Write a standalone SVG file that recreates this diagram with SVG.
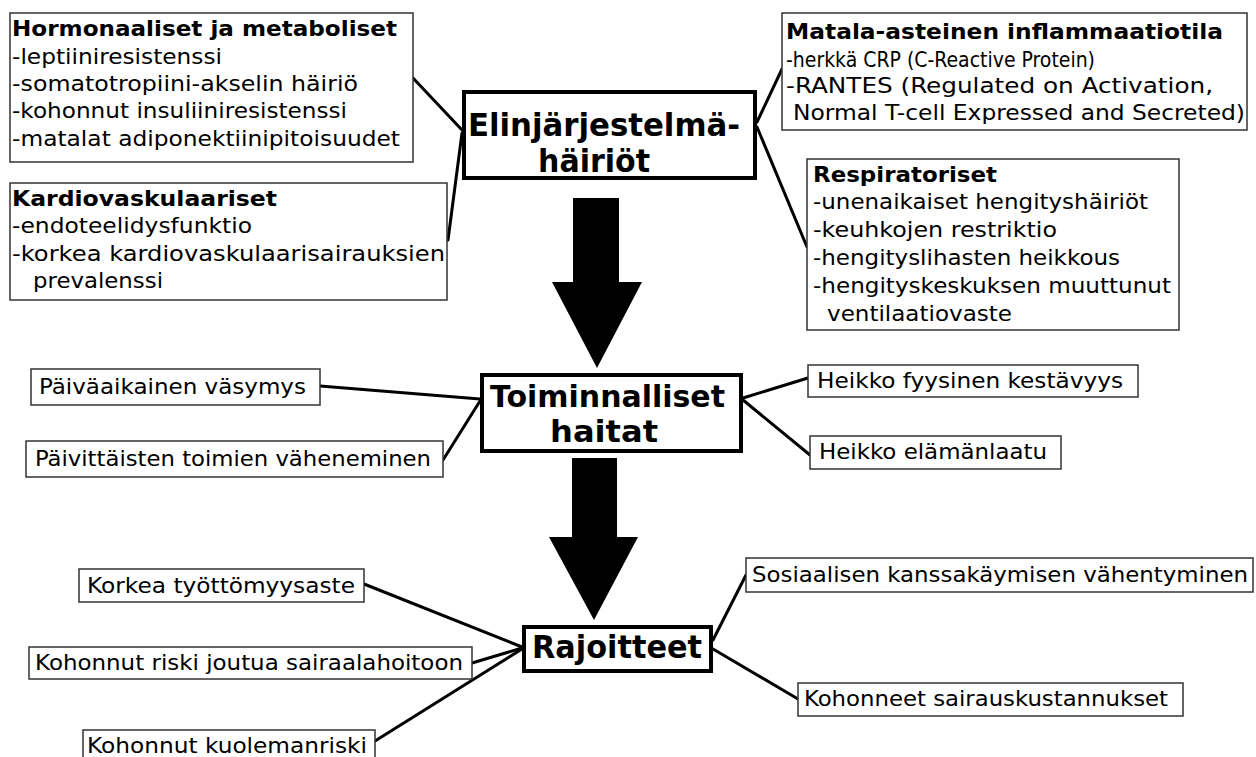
<svg xmlns="http://www.w3.org/2000/svg" width="1256" height="757" viewBox="0 0 1256 757">
<style>
.box{fill:#fff;stroke:#333;stroke-width:1.5}
.main{fill:#fff;stroke:#000;stroke-width:4}
text{font-family:'DejaVu Sans','Liberation Sans',sans-serif;font-size:21px;fill:#000}
.c{font-family:'DejaVu Sans Condensed','DejaVu Sans','Liberation Sans',sans-serif;font-stretch:condensed}
.b{font-weight:bold}
.s22{font-size:22px}
.s30{font-size:30px}
.s32{font-size:32px}
.conn line{stroke:#000;stroke-width:3;stroke-linecap:round}
.conn polygon{fill:#000}
</style>
<rect width="1256" height="757" fill="#fff"/>
<g id="connectors" class="conn">
<line x1="413" y1="78" x2="462" y2="130"/>
<line x1="448" y1="240" x2="462" y2="133"/>
<line x1="757" y1="122" x2="782" y2="69"/>
<line x1="757" y1="127" x2="807" y2="247"/>
<line x1="320" y1="386" x2="480" y2="399"/>
<line x1="443" y1="460" x2="480" y2="401"/>
<line x1="743" y1="398" x2="808" y2="378"/>
<line x1="743" y1="400" x2="810" y2="455"/>
<line x1="364" y1="584" x2="522" y2="647"/>
<line x1="472" y1="663" x2="522" y2="648"/>
<line x1="375" y1="741" x2="522" y2="649"/>
<line x1="713" y1="640" x2="746" y2="575"/>
<line x1="713" y1="649" x2="798" y2="699"/>
<polygon points="573,198 619,198 619,282 642,282 597,368 552,282 573,282"/>
<polygon points="572,458 617,458 617,537 638,537 594,620 549,537 572,537"/>
</g>
<g id="hormonaaliset">
<rect class="box" x="10" y="13" width="403" height="149"/>
<text class="b s22" x="12" y="36" textLength="385" lengthAdjust="spacingAndGlyphs">Hormonaaliset ja metaboliset</text>
<text class="s22" x="12" y="64" textLength="210" lengthAdjust="spacingAndGlyphs">-leptiiniresistenssi</text>
<text class="s22" x="12" y="91" textLength="346" lengthAdjust="spacingAndGlyphs">-somatotropiini-akselin häiriö</text>
<text class="s22" x="12" y="118" textLength="335" lengthAdjust="spacingAndGlyphs">-kohonnut insuliiniresistenssi</text>
<text class="s22" x="12" y="146" textLength="388" lengthAdjust="spacingAndGlyphs">-matalat adiponektiinipitoisuudet</text>
</g>
<g id="kardiovaskulaariset">
<rect class="box" x="10" y="183" width="437" height="117"/>
<text class="b s22" x="12" y="206" textLength="265" lengthAdjust="spacingAndGlyphs">Kardiovaskulaariset</text>
<text class="s22" x="12" y="233" textLength="240" lengthAdjust="spacingAndGlyphs">-endoteelidysfunktio</text>
<text class="s22" x="12" y="261" textLength="433" lengthAdjust="spacingAndGlyphs">-korkea kardiovaskulaarisairauksien</text>
<text class="s22" x="33" y="288" textLength="130" lengthAdjust="spacingAndGlyphs">prevalenssi</text>
</g>
<g id="matala">
<rect class="box" x="782" y="13" width="465" height="117"/>
<text class="c b s22" x="786" y="39" textLength="437" lengthAdjust="spacingAndGlyphs">Matala-asteinen inflammaatiotila</text>
<text class="c s22" x="786" y="67" textLength="309" lengthAdjust="spacingAndGlyphs">-herkkä CRP (C-Reactive Protein)</text>
<text class="c s22" x="786" y="93" textLength="427" lengthAdjust="spacingAndGlyphs">-RANTES (Regulated on Activation,</text>
<text class="c s22" x="793" y="120" textLength="452" lengthAdjust="spacingAndGlyphs">Normal T-cell Expressed and Secreted)</text>
</g>
<g id="respiratoriset">
<rect class="box" x="807" y="159" width="372" height="171"/>
<text class="b s22" x="813" y="182" textLength="184" lengthAdjust="spacingAndGlyphs">Respiratoriset</text>
<text class="s22" x="813" y="209" textLength="335" lengthAdjust="spacingAndGlyphs">-unenaikaiset hengityshäiriöt</text>
<text class="s22" x="813" y="237" textLength="244" lengthAdjust="spacingAndGlyphs">-keuhkojen restriktio</text>
<text class="s22" x="813" y="265" textLength="307" lengthAdjust="spacingAndGlyphs">-hengityslihasten heikkous</text>
<text class="s22" x="813" y="293" textLength="358" lengthAdjust="spacingAndGlyphs">-hengityskeskuksen muuttunut</text>
<text class="s22" x="827" y="321" textLength="185" lengthAdjust="spacingAndGlyphs">ventilaatiovaste</text>
</g>
<g id="elinjarjestelma">
<rect class="main" x="464" y="92" width="291" height="86"/>
<text class="c b s32" x="468" y="136" textLength="272" lengthAdjust="spacingAndGlyphs">Elinjärjestelmä-</text>
<text class="c b s32" x="538" y="172" textLength="112" lengthAdjust="spacingAndGlyphs">häiriöt</text>
</g>
<g id="toiminnalliset">
<rect class="main" x="482" y="375" width="259" height="76"/>
<text class="b s30" x="490" y="407" textLength="235" lengthAdjust="spacingAndGlyphs">Toiminnalliset</text>
<text class="b s30" x="550" y="442" textLength="108" lengthAdjust="spacingAndGlyphs">haitat</text>
</g>
<g id="rajoitteet">
<rect class="main" x="524" y="627" width="187" height="44"/>
<text class="c b s32" x="532" y="658" textLength="170" lengthAdjust="spacingAndGlyphs">Rajoitteet</text>
</g>
<g id="paivaaikainen">
<rect class="box" x="31" y="369" width="289" height="36"/>
<text class="c" x="39" y="394" textLength="267" lengthAdjust="spacingAndGlyphs">Päiväaikainen väsymys</text>
</g>
<g id="paivittaisten">
<rect class="box" x="26" y="441" width="417" height="36"/>
<text class="c" x="35" y="466" textLength="396" lengthAdjust="spacingAndGlyphs">Päivittäisten toimien väheneminen</text>
</g>
<g id="fyysinen">
<rect class="box" x="808" y="365" width="330" height="32"/>
<text class="c" x="817" y="388" textLength="306" lengthAdjust="spacingAndGlyphs">Heikko fyysinen kestävyys</text>
</g>
<g id="elamanlaatu">
<rect class="box" x="810" y="436" width="251" height="33"/>
<text class="c" x="819" y="459" textLength="228" lengthAdjust="spacingAndGlyphs">Heikko elämänlaatu</text>
</g>
<g id="tyottomyys">
<rect class="box" x="79" y="569" width="285" height="33"/>
<text class="s22" x="87" y="593" textLength="268" lengthAdjust="spacingAndGlyphs">Korkea työttömyysaste</text>
</g>
<g id="sairaalahoito">
<rect class="box" x="29" y="647" width="443" height="32"/>
<text class="s22" x="35" y="670" textLength="428" lengthAdjust="spacingAndGlyphs">Kohonnut riski joutua sairaalahoitoon</text>
</g>
<g id="kuolemanriski">
<rect class="box" x="83" y="730" width="292" height="32"/>
<text class="s22" x="87" y="753" textLength="280" lengthAdjust="spacingAndGlyphs">Kohonnut kuolemanriski</text>
</g>
<g id="sosiaalisen">
<rect class="box" x="746" y="558" width="507" height="34"/>
<text class="c s22" x="752" y="582" textLength="496" lengthAdjust="spacingAndGlyphs">Sosiaalisen kanssakäymisen vähentyminen</text>
</g>
<g id="kustannukset">
<rect class="box" x="798" y="683" width="385" height="33"/>
<text class="c s22" x="804" y="706" textLength="364" lengthAdjust="spacingAndGlyphs">Kohonneet sairauskustannukset</text>
</g>
</svg>
